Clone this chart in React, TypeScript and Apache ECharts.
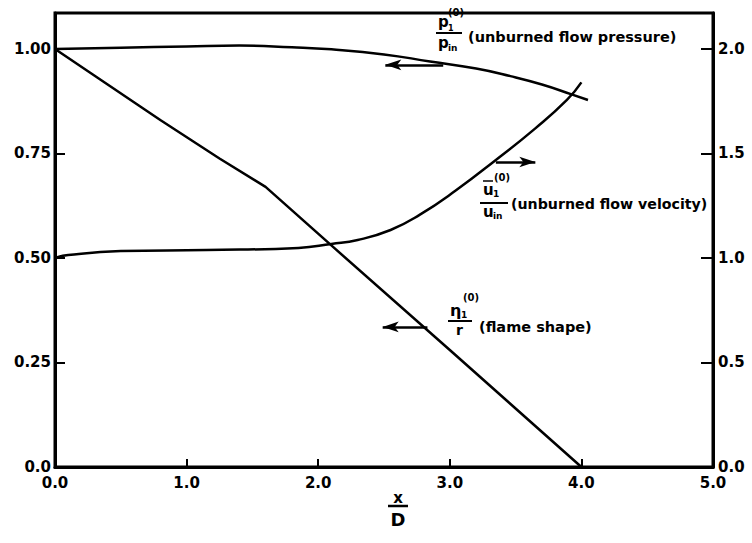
import React, { useEffect, useRef } from "react";
import * as echarts from "echarts";

// x/D values and read curve values
const pressureX = [0, 0.5, 1.0, 1.4, 1.8, 2.1, 2.5, 2.85, 3.2, 3.46, 3.7, 3.92, 4.05];
const pressureY = [1.0, 1.003, 1.006, 1.008, 1.004, 0.999, 0.987, 0.97, 0.953, 0.935, 0.915, 0.892, 0.878];

const velocityX = [0, 0.1, 0.5, 1.15, 1.85, 2.1, 2.3, 2.55, 2.77, 3.05, 3.35, 3.65, 3.89, 4.0];
const velocityY = [1.0, 1.014, 1.033, 1.038, 1.048, 1.067, 1.086, 1.134, 1.206, 1.325, 1.469, 1.62, 1.756, 1.84];

const flameX = [0, 0.4, 0.8, 1.25, 1.6, 2.1, 3.0, 4.0];
const flameY = [1.0, 0.915, 0.83, 0.738, 0.67, 0.53, 0.28, 0.0];

const xTicks = [0, 1, 2, 3, 4, 5];
const leftTickLabels = ["0.0", "0.25", "0.50", "0.75", "1.00"];
const rightTickLabels = ["0.0", "0.5", "1.0", "1.5", "2.0"];

// arrows: [x1, y1, x2, y2] (arrow head at second point)
const pressureArrow = [2.95, 0.962, 2.51, 0.962];
const velocityArrow = [3.35, 1.459, 3.65, 1.459];
const flameArrow = [2.83, 0.335, 2.49, 0.335];

const FONT = "DejaVu Sans";

function zip(xs: number[], ys: number[]) {
  return xs.map((x, i) => [x, ys[i]]);
}

function arrowMark(a: number[]) {
  return {
    silent: true,
    symbol: ["none", "arrow"],
    symbolSize: [8, 16],
    lineStyle: { color: "#000", width: 2.5, type: "solid" },
    label: { show: false },
    data: [[{ coord: [a[0], a[1]] }, { coord: [a[2], a[3]] }]],
  };
}

function txt(x: number, y: number, text: string, size: number, align = "left") {
  return {
    type: "text",
    x,
    y,
    style: {
      text,
      font: `bold ${size}px ${FONT}`,
      fill: "#000",
      align,
      verticalAlign: "middle",
    },
  };
}

function ln(x1: number, y1: number, x2: number, y2: number, w = 2) {
  return {
    type: "line",
    shape: { x1, y1, x2, y2 },
    style: { stroke: "#000", lineWidth: w },
  };
}

export default function App() {
  const ref = useRef<HTMLDivElement>(null);
  useEffect(() => {
    document.body.style.margin = "0";
    const chart = echarts.init(ref.current!, null, { renderer: "svg" });
    const labelStyle = {
      color: "#000",
      fontFamily: FONT,
      fontWeight: "bold",
      fontSize: 15,
    };
    chart.setOption({
      animation: false,
      backgroundColor: "#fff",
      grid: {
        left: 55,
        right: 39,
        top: 13,
        bottom: 76,
        show: true,
        borderColor: "#000",
        borderWidth: 3,
        backgroundColor: "transparent",
      },
      xAxis: {
        type: "value",
        min: 0,
        max: 5,
        interval: 1,
        axisLine: { show: true, lineStyle: { color: "#000", width: 3 } },
        axisTick: { show: true, inside: true, length: 8, lineStyle: { color: "#000", width: 2 } },
        splitLine: { show: false },
        axisLabel: {
          ...labelStyle,
          margin: 8,
          formatter: (v: number) => (xTicks.includes(v) ? v.toFixed(1) : ""),
        },
      },
      yAxis: [
        {
          type: "value",
          min: 0,
          max: 1.086,
          interval: 0.25,
          position: "left",
          axisLine: { show: true, lineStyle: { color: "#000", width: 3 } },
          axisTick: { show: true, inside: true, length: 10, lineStyle: { color: "#000", width: 2 } },
          splitLine: { show: false },
          axisLabel: {
            ...labelStyle,
            margin: 4,
            showMaxLabel: false,
            formatter: (v: number) => {
              const i = Math.round(v / 0.25);
              return Math.abs(v - i * 0.25) < 1e-6 ? leftTickLabels[i] ?? "" : "";
            },
          },
        },
        {
          type: "value",
          min: 0,
          max: 2.172,
          interval: 0.5,
          position: "right",
          axisLine: { show: true, lineStyle: { color: "#000", width: 3 } },
          axisTick: { show: true, inside: true, length: 12, lineStyle: { color: "#000", width: 2 } },
          splitLine: { show: false },
          axisLabel: {
            ...labelStyle,
            margin: 5,
            showMaxLabel: false,
            formatter: (v: number) => {
              const i = Math.round(v / 0.5);
              return Math.abs(v - i * 0.5) < 1e-6 ? rightTickLabels[i] ?? "" : "";
            },
          },
        },
      ],
      series: [
        {
          name: "pressure",
          type: "line",
          yAxisIndex: 0,
          smooth: true,
          showSymbol: false,
          symbol: "none",
          lineStyle: { color: "#000", width: 2.5 },
          data: zip(pressureX, pressureY),
          markLine: arrowMark(pressureArrow),
        },
        {
          name: "velocity",
          type: "line",
          yAxisIndex: 1,
          smooth: true,
          showSymbol: false,
          symbol: "none",
          lineStyle: { color: "#000", width: 2.5 },
          data: zip(velocityX, velocityY),
          markLine: arrowMark(velocityArrow),
        },
        {
          name: "flame",
          type: "line",
          yAxisIndex: 0,
          smooth: false,
          showSymbol: false,
          symbol: "none",
          lineStyle: { color: "#000", width: 2.5 },
          data: zip(flameX, flameY),
          markLine: arrowMark(flameArrow),
        },
      ],
      graphic: [
        // pressure label
        txt(438, 22, "p", 15),
        txt(448, 28, "1", 8),
        txt(448, 12, "(0)", 10),
        ln(436, 33, 462, 33),
        txt(438, 43, "p", 15),
        txt(448, 48, "in", 9),
        txt(468, 37, "(unburned flow pressure)", 14.5),
        // velocity label
        txt(483, 190, "u", 15),
        ln(483, 181, 493, 181, 1.5),
        txt(493, 194, "1", 9),
        txt(494, 177, "(0)", 10),
        ln(480, 203, 508, 203),
        txt(483, 212, "u", 15),
        txt(493, 216, "in", 9),
        txt(511, 204, "(unburned flow velocity)", 14.2),
        // flame label
        txt(450, 310, "η", 16),
        txt(461, 315, "1", 9),
        txt(463, 297, "(0)", 10),
        ln(448, 321, 472, 321),
        txt(456, 330, "r", 14),
        txt(479, 327, "(flame shape)", 14.5),
        // x/D axis name
        txt(398, 498, "x", 15, "center"),
        ln(388, 506, 408, 506, 2.5),
        txt(398, 519, "D", 18, "center"),
      ],
    });
    return () => chart.dispose();
  }, []);
  return <div ref={ref} style={{ width: 752, height: 543 }} />;
}
